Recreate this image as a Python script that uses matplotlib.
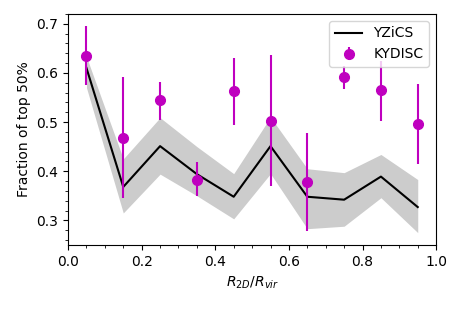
import numpy as np
import matplotlib
matplotlib.use("Agg")
import matplotlib.pyplot as plt

r_bins = [0.05, 0.15, 0.25, 0.35, 0.45, 0.55, 0.65, 0.75, 0.85, 0.95]

yzics_frac = [0.610, 0.368, 0.451, 0.394, 0.348, 0.451, 0.348, 0.342, 0.389, 0.327]
yzics_lo = [0.570, 0.315, 0.394, 0.350, 0.303, 0.395, 0.283, 0.288, 0.346, 0.275]
yzics_hi = [0.633, 0.425, 0.509, 0.450, 0.395, 0.510, 0.405, 0.397, 0.434, 0.383]

kydisc_frac = [0.635, 0.468, 0.545, 0.383, 0.563, 0.503, 0.377, 0.592, 0.565, 0.496]
kydisc_lo = [0.575, 0.345, 0.505, 0.350, 0.495, 0.370, 0.278, 0.568, 0.503, 0.415]
kydisc_hi = [0.695, 0.592, 0.582, 0.418, 0.630, 0.637, 0.478, 0.615, 0.625, 0.577]

x = np.array(r_bins)
ky = np.array(kydisc_frac)
yerr = [ky - np.array(kydisc_lo), np.array(kydisc_hi) - ky]

fig, ax = plt.subplots(figsize=(4.63, 3.1), dpi=100)
ax.fill_between(x, yzics_lo, yzics_hi, color="0.8", lw=0)
ax.plot(x, yzics_frac, color="k", lw=1.5, label="YZiCS")
ax.errorbar(x, ky, yerr=yerr, fmt="o", color="m", ms=7, elinewidth=1.5, label="KYDISC")

ax.set_xlim(0, 1)
ax.set_ylim(0.25, 0.72)
ax.minorticks_on()
ax.set_xlabel("$R_{2D}/R_{vir}$")
ax.set_ylabel("Fraction of top 50%")
ax.legend(loc="upper right")

fig.subplots_adjust(left=0.147, right=0.942, top=0.955, bottom=0.21)
fig.savefig("out.png", dpi=100)
